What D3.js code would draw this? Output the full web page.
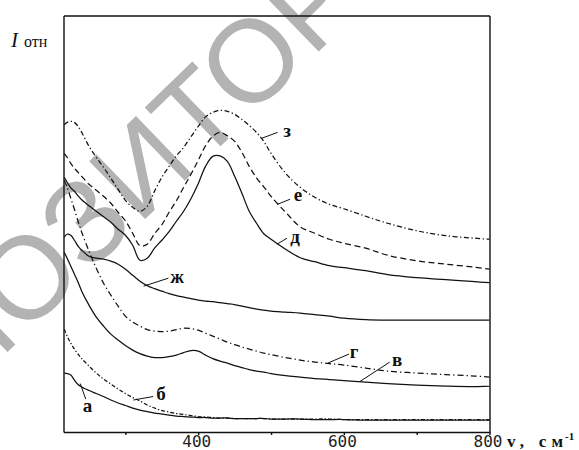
<!DOCTYPE html>
<html>
<head>
<meta charset="utf-8">
<script src="https://cdn.jsdelivr.net/npm/d3@7"></script>
<style>
    body { margin: 0; background: #fff; }
    svg { display: block; }
</style>
</head>
<body>
<div id="chartDiv"></div>
<script>
'use strict';

// wavenumber grid, cm-1 (shared by all curves)
const WAVENUMBERS = [216, 220, 225, 230, 235, 240, 250, 260, 270, 280, 290, 300, 310, 320, 330, 340, 350, 360, 370, 380, 390, 400, 410, 420, 430, 440, 450, 460, 470, 480, 490, 500, 520, 540, 560, 580, 600, 630, 660, 700, 740, 780, 800];

// relative intensity (arb. units, curves are offset)
const CURVE_A = [5.8, 5.75, 5.6, 5.1, 4.65, 4.4, 4.05, 3.75, 3.45, 3.1, 2.8, 2.55, 2.3, 2.1, 1.95, 1.8, 1.7, 1.6, 1.5, 1.45, 1.4, 1.35, 1.35, 1.3, 1.3, 1.3, 1.25, 1.25, 1.25, 1.25, 1.25, 1.2, 1.2, 1.2, 1.15, 1.15, 1.15, 1.1, 1.1, 1.1, 1.1, 1.1, 1.1];
const CURVE_B = [10.2, 9.5, 8.8, 8.2, 7.7, 7.25, 6.5, 5.8, 5.2, 4.7, 4.2, 3.75, 3.35, 3.0, 2.6, 2.3, 2.05, 1.9, 1.75, 1.65, 1.55, 1.45, 1.4, 1.35, 1.3, 1.3, 1.25, 1.25, 1.25, 1.25, 1.25, 1.2, 1.2, 1.2, 1.2, 1.2, 1.15, 1.15, 1.15, 1.15, 1.15, 1.15, 1.15];
const CURVE_V = [17.9, 17.3, 16.5, 15.7, 14.9, 14.0, 12.6, 11.4, 10.5, 9.7, 9.1, 8.55, 8.1, 7.75, 7.5, 7.35, 7.35, 7.45, 7.6, 7.85, 8.05, 8.0, 7.6, 7.25, 7.0, 6.8, 6.55, 6.35, 6.15, 6.0, 5.9, 5.75, 5.55, 5.4, 5.25, 5.15, 5.05, 4.9, 4.75, 4.6, 4.5, 4.45, 4.5];
const CURVE_G = [25.1, 24.4, 23.3, 22.2, 21.0, 19.9, 18.0, 16.3, 14.8, 13.6, 12.5, 11.5, 10.9, 10.5, 10.15, 10.0, 9.95, 10.0, 10.15, 10.3, 10.25, 10.1, 9.8, 9.5, 9.2, 8.9, 8.65, 8.4, 8.2, 8.0, 7.8, 7.65, 7.35, 7.1, 6.9, 6.75, 6.6, 6.3, 6.0, 5.8, 5.65, 5.5, 5.4];
const CURVE_D = [25.4, 24.9, 24.35, 24.0, 23.55, 23.15, 22.55, 22.0, 21.45, 20.9, 20.2, 19.6, 18.6, 17.1, 17.3, 18.3, 19.1, 19.95, 21.0, 22.0, 23.25, 24.75, 26.5, 27.5, 27.55, 27.0, 25.5, 23.8, 22.0, 20.8, 19.75, 19.2, 18.2, 17.35, 16.95, 16.55, 16.35, 16.05, 15.65, 15.35, 15.15, 14.95, 14.85];
const CURVE_E = [27.8, 27.4, 26.8, 26.3, 25.9, 25.5, 24.7, 24.1, 23.5, 22.8, 21.9, 21.05, 19.8, 18.55, 18.7, 19.75, 20.65, 21.9, 23.05, 24.4, 25.7, 27.1, 28.55, 29.5, 29.9, 29.55, 29.0, 27.9, 26.5, 25.35, 24.45, 23.5, 21.9, 20.45, 19.8, 19.2, 18.8, 18.3, 17.6, 17.05, 16.7, 16.4, 16.2];
const CURVE_ZH = [19.4, 19.7, 19.6, 19.1, 18.5, 18.1, 17.5, 17.3, 17.2, 17.0, 16.7, 16.2, 15.6, 15.0, 14.55, 14.25, 14.0, 13.75, 13.55, 13.4, 13.25, 13.1, 13.0, 12.95, 12.85, 12.75, 12.65, 12.5, 12.35, 12.2, 12.1, 12.0, 11.9, 11.8, 11.65, 11.5, 11.3, 11.15, 11.1, 11.1, 11.1, 11.1, 11.1];
const CURVE_Z = [30.65, 30.9, 31.0, 30.9, 30.5, 29.9, 28.5, 27.4, 26.4, 25.3, 24.2, 23.1, 22.4, 22.0, 22.5, 24.0, 25.4, 26.5, 27.55, 28.4, 29.45, 30.5, 31.45, 31.9, 32.1, 32.0, 31.7, 31.2, 30.6, 29.9, 29.0, 27.8, 25.8, 24.4, 23.4, 22.7, 22.25, 21.5, 20.8, 20.05, 19.55, 19.3, 19.2];

const CURVE_NAMES = ['а', 'б', 'в', 'г', 'д', 'е', 'ж', 'з'];

const X_TICKS = [300, 400, 500, 600, 700, 800];
const X_TICK_LABELS = ['', '400', '', '600', '', '800'];

const Chart = function(options){

    const W = 579, H = 450;
    const plot = { left: 63.5, right: 489.5, top: 15.5, bottom: 432 };

    const xScale = d3.scaleLinear()
        .domain([215, 800])
        .range([plot.left, plot.right]);

    const yScale = d3.scaleLinear()
        .domain([-0.1, 41.6])
        .range([plot.bottom, plot.top]);

    const svg = d3.select('#' + options.containerID)
        .append('svg')
        .attr('width', W)
        .attr('height', H);

    // repository watermark, sits under the plot
    svg.append('text')
        .attr('transform', 'translate(169,196) rotate(-44)')
        .attr('text-anchor', 'middle')
        .attr('fill', '#b3b3b3')
        .style('font', '117px "Liberation Sans", Arial, sans-serif')
        .text('РЕПОЗИТОРИЙ');

    const line = d3.line()
        .x((d, i) => xScale(WAVENUMBERS[i]))
        .y(d => yScale(d))
        .curve(d3.curveCatmullRom.alpha(0.5));

    const series = [
        { name: CURVE_NAMES[0], values: CURVE_A, dash: null },
        { name: CURVE_NAMES[1], values: CURVE_B, dash: '4,2,1.3,2' },
        { name: CURVE_NAMES[2], values: CURVE_V, dash: null },
        { name: CURVE_NAMES[3], values: CURVE_G, dash: '6,3,1.3,3' },
        { name: CURVE_NAMES[4], values: CURVE_D, dash: null },
        { name: CURVE_NAMES[5], values: CURVE_E, dash: '6,3.5' },
        { name: CURVE_NAMES[6], values: CURVE_ZH, dash: null },
        { name: CURVE_NAMES[7], values: CURVE_Z, dash: '5,2.5,1.3,2.5' }
    ];

    svg.append('g')
        .selectAll('path')
        .data(series)
        .join('path')
        .attr('fill', 'none')
        .attr('stroke', '#111')
        .attr('stroke-width', 1.25)
        .attr('stroke-dasharray', d => d.dash)
        .attr('d', d => line(d.values));

    // curve letters with leader lines, in data units:
    // [leader start x, y, leader end x, y, letter x, y]
    const spots = {
        'з': [487, 29.3, 509, 29.9, 522, 30.0],
        'е': [509, 22.7, 526, 23.2, 537, 23.6],
        'д': [508, 18.7, 522, 19.3, 533, 19.35],
        'ж': [325, 14.5, 359, 15.3, 371, 15.4],
        'г': [578, 6.8, 607, 7.7, 614, 7.85],
        'в': [622, 4.95, 663, 6.9, 673, 7.1],
        'б': [311, 3.1, 338, 3.45, 349, 3.7],
        'а': [238, 4.75, 245.5, 3.2, 248, 2.5]
    };

    const labels = svg.append('g');
    series.forEach(s => {
        const p = spots[s.name];
        labels.append('line')
            .attr('x1', xScale(p[0])).attr('y1', yScale(p[1]))
            .attr('x2', xScale(p[2])).attr('y2', yScale(p[3]))
            .attr('stroke', '#111')
            .attr('stroke-width', 1);
        labels.append('text')
            .attr('x', xScale(p[4]))
            .attr('y', yScale(p[5]))
            .attr('dy', '0.3em')
            .attr('text-anchor', 'middle')
            .style('font', 'bold 19px "Liberation Serif", "Times New Roman", serif')
            .attr('fill', '#111')
            .text(s.name);
    });

    // frame
    const frame = svg.append('g')
        .attr('stroke-width', 1.4);

    const xAxis = frame.append('g')
        .attr('transform', 'translate(0,' + plot.bottom + ')')
        .call(d3.axisBottom(xScale)
            .tickValues(X_TICKS)
            .tickSize(3)
            .tickSizeOuter(0)
            .tickFormat((d, i) => X_TICK_LABELS[i]));

    xAxis.selectAll('text')
        .attr('x', -2)
        .attr('y', 15)
        .attr('dy', 0)
        .attr('fill', '#222')
        .style('font', '16px "DejaVu Sans Mono", monospace');

    frame.append('g')
        .attr('transform', 'translate(0,' + plot.top + ')')
        .call(d3.axisTop(xScale).tickValues([]).tickSizeOuter(0));

    frame.append('g')
        .attr('transform', 'translate(' + plot.left + ',0)')
        .call(d3.axisLeft(yScale).tickValues([]).tickSizeOuter(0));

    frame.append('g')
        .attr('transform', 'translate(' + plot.right + ',0)')
        .call(d3.axisRight(yScale).tickValues([]).tickSizeOuter(0));

    frame.selectAll('.domain, .tick line').attr('stroke', '#111');

    // axis titles
    const yTitle = svg.append('text')
        .attr('x', 11)
        .attr('y', 47)
        .attr('fill', '#111');
    yTitle.append('tspan')
        .style('font', 'italic 21px "Liberation Serif", "Times New Roman", serif')
        .text('I');
    yTitle.append('tspan')
        .attr('dx', 6)
        .style('font', '16px "Liberation Serif", "Times New Roman", serif')
        .text('отн');

    svg.append('text')
        .attr('x', 507)
        .attr('y', 447)
        .attr('textLength', 56)
        .attr('lengthAdjust', 'spacing')
        .attr('fill', '#111')
        .style('font', 'bold 17px "Liberation Serif", "Times New Roman", serif')
        .text('v, см');

    svg.append('text')
        .attr('x', 565)
        .attr('y', 440)
        .attr('fill', '#111')
        .style('font', 'bold 11px "Liberation Serif", "Times New Roman", serif')
        .text('-1');
};

const chart = new Chart({ containerID: 'chartDiv' });
</script>
</body>
</html>
